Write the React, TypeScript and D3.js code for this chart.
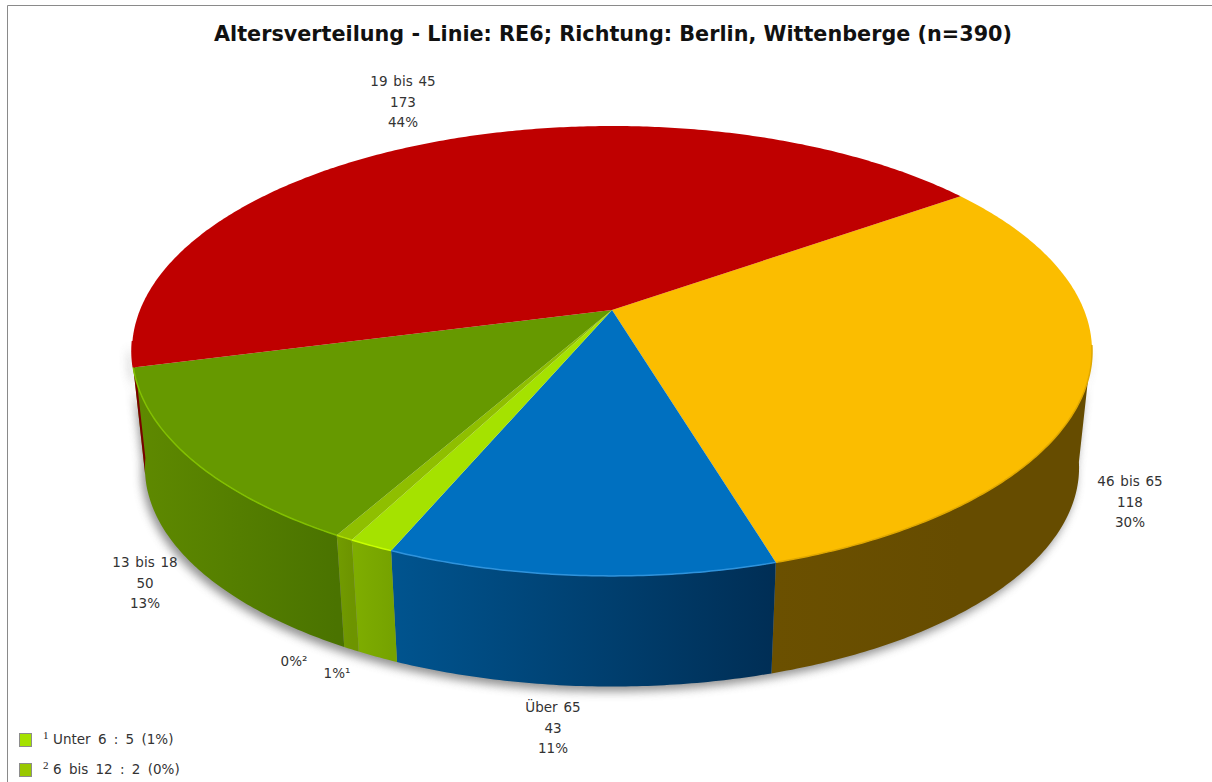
import React from "react";
import * as d3 from "d3";

const titleText = "Altersverteilung - Linie: RE6; Richtung: Berlin, Wittenberge (n=390)";
const categories = ["46 bis 65", "Über 65", "Unter 6", "6 bis 12", "13 bis 18", "19 bis 45"];
const counts = [118, 43, 5, 2, 50, 173];
const percents = ["30%", "11%", "1%", "0%", "13%", "44%"];
const topColors = ["#fbbd00", "#0070c0", "#a5e200", "#8fbf00", "#669900", "#bf0000"];
const sideLeft = ["#6b5000", "#00548f", "#7fae00", "#729c00", "#5f8a00", "#7a0000"];
const sideRight = ["#664c00", "#002e55", "#76a300", "#6d9400", "#4a7300", "#7a0000"];
const rimColors = ["#e0a800", "#2f93dc", "#c8ff00", "#b0e000", "#82c000", "#bf0000"];

const W = 1212, H = 782;
const cx = 612, cy = 310, R = 472, Rs = 217.5, k = 0.182;
const shrink = 0.973, vy = 4674;

const proj = (a: number): [number, number] => {
  const X = Math.cos(a), Y = Math.sin(a), d = 1 - k * Y;
  return [cx + (R * X) / d, cy + (Rs * Y) / d];
};
const lower = ([x, y]: [number, number]): [number, number] => [cx + shrink * (x - cx), vy + shrink * (y - vy)];
const samples = (a0: number, a1: number) => {
  const n = Math.max(2, Math.ceil(Math.abs(a1 - a0) / 0.01));
  return d3.range(n + 1).map((i) => a0 + ((a1 - a0) * i) / n);
};
const line = d3.line<[number, number]>().x((d) => d[0]).y((d) => d[1]);

const rad = (deg: number) => (deg * Math.PI) / 180;
const startDeg = -35.3 + 90; // d3.pie measures from 12 o'clock
const pie = d3.pie<number>().sort(null).startAngle(rad(startDeg)).endAngle(rad(startDeg + 360));
const slices = pie(counts);
// visible part of the rim (front of the disc)
const visA = rad(9), visB = rad(172);

const labels: { lines: string[]; x: number; y: number }[] = [
  { lines: [categories[0], String(counts[0]), percents[0]], x: 1130, y: 486 },
  { lines: [categories[1], String(counts[1]), percents[1]], x: 553, y: 712 },
  { lines: [percents[3] + "²"], x: 294, y: 666 },
  { lines: [percents[2] + "¹"], x: 337, y: 678 },
  { lines: [categories[4], String(counts[4]), percents[4]], x: 145, y: 567 },
  { lines: [categories[5], String(counts[5]), percents[5]], x: 403, y: 86 },
];
const legend = [
  { sup: "1", text: `${categories[2]} : ${counts[2]} (${percents[2]})`, color: "#a5e200", y: 740 },
  { sup: "2", text: `${categories[3]} : ${counts[3]} (${percents[3]})`, color: "#99c800", y: 770 },
];
const font = "'DejaVu Sans', Verdana, sans-serif";

export default function App() {
  const outline = [
    ...samples(visA, visB).map(proj),
    ...samples(visB, visA).map(proj).map(lower),
  ] as [number, number][];
  return (
    <svg width={W} height={H} style={{ position: "absolute", left: 0, top: 0, background: "#fff" }}>
      <defs>
        <filter id="soft" x="-10%" y="-10%" width="120%" height="120%">
          <feGaussianBlur stdDeviation="5" />
        </filter>
        {slices.map((s, i) => (
          <linearGradient key={i} id={`side${i}`} gradientUnits="userSpaceOnUse" x1={proj(s.startAngle - Math.PI / 2)[0]} x2={proj(s.endAngle - Math.PI / 2)[0]} y1="0" y2="0">
            <stop offset="0" stopColor={sideRight[i]} />
            <stop offset="1" stopColor={sideLeft[i]} />
          </linearGradient>
        ))}
      </defs>
      <path d="M7.5 782V5.5H1212" fill="none" stroke="#8a8a8a" strokeWidth={1} />
      <text x={613} y={41} textAnchor="middle" fontFamily={font} fontWeight={700} fontSize={21.5} textLength={798} lengthAdjust="spacingAndGlyphs" fill="#111">{titleText}</text>
      <path d={line(outline)! + "Z"} transform="translate(-3 5)" fill="#777" opacity={0.8} filter="url(#soft)" />
      {slices.map((s, i) => {
        const a0 = Math.max(s.startAngle - Math.PI / 2, visA);
        const a1 = Math.min(s.endAngle - Math.PI / 2, visB);
        if (a1 <= a0) return null;
        const top = samples(a0, a1).map(proj);
        const bottom = samples(a1, a0).map(proj).map(lower);
        return <path key={i} d={line([...top, ...bottom] as [number, number][])! + "Z"} fill={`url(#side${i})`} />;
      })}
      {slices.map((s, i) => {
        const pts = samples(s.startAngle - Math.PI / 2, s.endAngle - Math.PI / 2).map(proj);
        return <path key={i} d={line([[cx, cy], ...pts] as [number, number][])! + "Z"} fill={topColors[i]} />;
      })}
      {slices.map((s, i) => {
        const a0 = Math.max(s.startAngle - Math.PI / 2, visA);
        const a1 = Math.min(s.endAngle - Math.PI / 2, visB);
        if (a1 <= a0) return null;
        return <path key={i} d={line(samples(a0, a1).map(proj) as [number, number][])!} fill="none" stroke={rimColors[i]} strokeWidth={1.5} />;
      })}
      {labels.map((l, i) => (
        <text key={i} x={l.x} fontFamily={font} fontSize={13.5} wordSpacing={1.5} fill="#333" textAnchor="middle">
          {l.lines.map((t, j) => (
            <tspan key={j} x={l.x} y={l.y + j * 20.5}>{t}</tspan>
          ))}
        </text>
      ))}
      {legend.map((d) => (
        <g key={d.sup}>
          <rect x={19.5} y={d.y - 6.5} width={12} height={13} fill={d.color} stroke="#8c8c8c" />
          <text x={43} y={d.y - 1} fontFamily="'Liberation Serif', serif" fontSize={11} fill="#222">{d.sup}</text>
          <text x={53} y={d.y + 4} fontFamily={font} fontSize={13.5} wordSpacing={3} fill="#333">{d.text}</text>
        </g>
      ))}
    </svg>
  );
}
